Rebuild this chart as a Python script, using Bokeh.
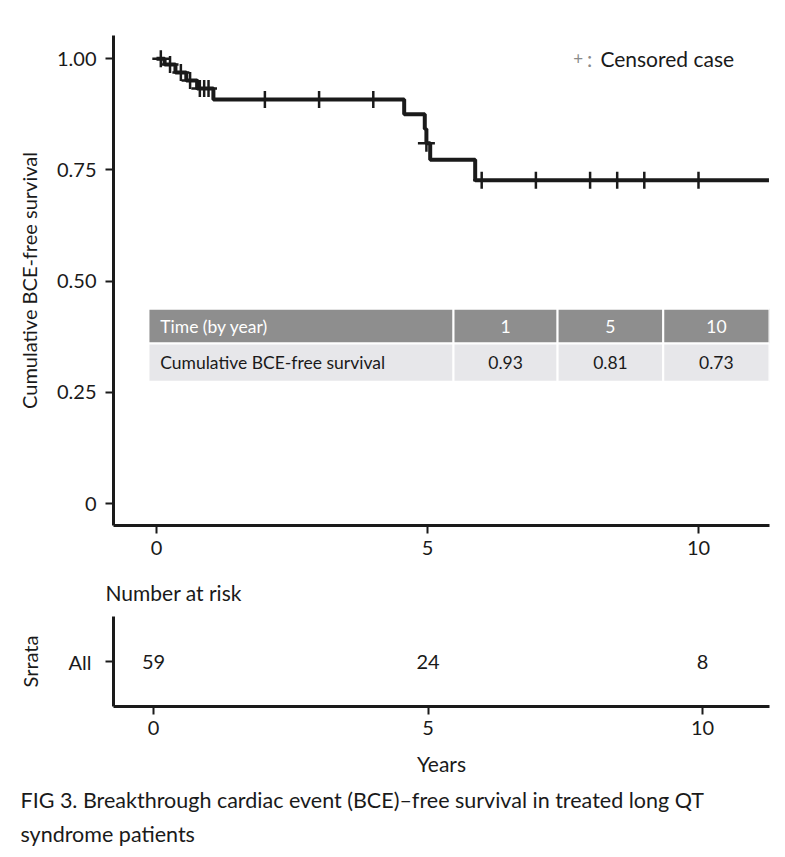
from bokeh.plotting import figure
from bokeh.models import Range1d, FixedTicker, Title
from bokeh.layouts import column
from bokeh.embed import file_html
from bokeh.resources import INLINE
from bokeh.core.properties import value

# ---------------- data ----------------
step_times = [0.0, 0.15, 0.35, 0.55, 0.75, 1.05, 4.57, 4.95, 4.98, 5.05, 5.88]
step_surv = [1.0, 0.987, 0.969, 0.951, 0.933, 0.908, 0.875, 0.842, 0.810, 0.773, 0.727]
follow_end = 11.3

censor_times = [0.08, 0.25, 0.45, 0.62, 0.80, 0.88, 0.96, 2.0, 3.0, 4.0, 4.98,
                6.0, 7.0, 8.0, 8.5, 9.0, 10.0]
censor_surv = [1.0, 0.987, 0.969, 0.951, 0.933, 0.933, 0.933, 0.908, 0.908, 0.908, 0.810,
               0.727, 0.727, 0.727, 0.727, 0.727, 0.727]

y_ticks = [0, 0.25, 0.5, 0.75, 1.0]
y_tick_labels = ["0", "0.25", "0.50", "0.75", "1.00"]
x_ticks = [0, 5, 10]

table_header = ["Time (by year)", "1", "5", "10"]
table_row = ["Cumulative BCE-free survival", "0.93", "0.81", "0.73"]

risk_times = [0, 5, 10]
at_risk = [59, 24, 8]

caption_lines = ["FIG 3.  Breakthrough cardiac event (BCE)\u2013free survival in treated long QT",
                 "syndrome patients"]

FONT = "Lato"
TICK_FS = "20px"
LABEL_FS = "20px"
BIG_FS = "21px"
TABLE_FS = "17.5px"
INK = "#1a1a1a"


def style_axis(ax):
    ax.axis_line_width = 3
    ax.axis_line_color = INK
    ax.major_tick_line_width = 2
    ax.major_tick_line_color = INK
    ax.major_tick_out = 8
    ax.major_tick_in = 0
    ax.minor_tick_line_color = None
    ax.major_label_text_font = FONT
    ax.major_label_text_font_size = TICK_FS
    ax.major_label_text_color = INK
    ax.axis_label_text_font = FONT
    ax.axis_label_text_font_style = "normal"
    ax.axis_label_text_color = INK


# ---------------- main KM figure ----------------
p = figure(width=777, height=616, x_range=Range1d(-0.793, 11.31), y_range=Range1d(-0.049, 1.052),
           output_backend="svg", toolbar_location=None,
           min_border_left=113, min_border_right=8, min_border_top=35, min_border_bottom=91)
p.outline_line_color = None
p.grid.visible = False
style_axis(p.xaxis[0])
style_axis(p.yaxis[0])

p.yaxis.ticker = FixedTicker(ticks=y_ticks)
p.yaxis.major_label_overrides = {t: l for t, l in zip(y_ticks, y_tick_labels)}
p.yaxis.major_label_standoff = 9
p.yaxis.axis_label = "Cumulative BCE-free survival"
p.yaxis.axis_label_text_font_size = LABEL_FS
p.yaxis.axis_label_standoff = 13

p.xaxis.ticker = FixedTicker(ticks=x_ticks)
p.xaxis.major_label_standoff = 7

# small spacer, then the "Number at risk" heading under the main plot's x axis
p.add_layout(Title(text=" ", standoff=17, text_font=FONT, text_font_size="1px"), "below")
p.add_layout(Title(text="Number at risk", align="left", offset=-8, standoff=0,
                   text_font=FONT, text_font_size=BIG_FS,
                   text_font_style="normal", text_color=INK), "below")

# table (drawn in data space)
col_edges = [-0.148, 5.48, 7.40, 9.35, 11.31]
row_edges = [0.438, 0.360, 0.274]
col_centers = [(col_edges[i] + col_edges[i + 1]) / 2 for i in range(len(col_edges) - 1)]
p.quad(left=col_edges[:-1], right=col_edges[1:], top=row_edges[0], bottom=row_edges[1],
       fill_color="#8e8e8e", line_color="white", line_width=2)
p.quad(left=col_edges[:-1], right=col_edges[1:], top=row_edges[1], bottom=row_edges[2],
       fill_color="#e7e7ea", line_color="white", line_width=2)
hy = (row_edges[0] + row_edges[1]) / 2
by = (row_edges[1] + row_edges[2]) / 2
p.text(x=[0.07], y=[hy], text=[table_header[0]], text_font=value(FONT), text_font_size=TABLE_FS,
       text_color="white", text_align="left", text_baseline="middle")
p.text(x=col_centers[1:], y=[hy] * 3, text=table_header[1:], text_font=value(FONT),
       text_font_size=TABLE_FS, text_color="white", text_align="center", text_baseline="middle")
p.text(x=[0.07], y=[by], text=[table_row[0]], text_font=value(FONT), text_font_size=TABLE_FS,
       text_color=INK, text_align="left", text_baseline="middle")
p.text(x=col_centers[1:], y=[by] * 3, text=table_row[1:], text_font=value(FONT),
       text_font_size=TABLE_FS, text_color=INK, text_align="center", text_baseline="middle")

# KM curve
p.step(x=step_times + [follow_end], y=step_surv + [step_surv[-1]], mode="after",
       line_width=4, line_color=INK)
p.scatter(x=censor_times, y=censor_surv, marker="cross", size=17, line_width=2.5,
          line_color=INK)

# legend note
p.text(x=[7.78], y=[1.0], text=["+"], text_font=value(FONT), text_font_size="17px",
       text_color="#8a8a8a", text_align="center", text_baseline="middle")
p.text(x=[7.99], y=[1.0], text=[":"], text_font=value(FONT), text_font_size=BIG_FS,
       text_color="#8a8a8a", text_align="center", text_baseline="middle")
p.text(x=[8.19], y=[1.0], text=["Censored case"], text_font=value(FONT), text_font_size=BIG_FS,
       text_color=INK, text_align="left", text_baseline="middle")

# ---------------- number at risk figure (with caption) ----------------
r = figure(width=777, height=239, x_range=Range1d(-0.729, 11.22), y_range=Range1d(0, 1),
           output_backend="svg", toolbar_location=None,
           min_border_left=113, min_border_right=8, min_border_top=0, min_border_bottom=149)
r.outline_line_color = None
r.grid.visible = False
style_axis(r.xaxis[0])
style_axis(r.yaxis[0])
r.xaxis.ticker = FixedTicker(ticks=x_ticks)
r.xaxis.major_label_standoff = 6
r.xaxis.axis_label = "Years"
r.xaxis.axis_label_text_font_size = BIG_FS
r.xaxis.axis_label_standoff = 13
r.yaxis.ticker = FixedTicker(ticks=[0.5])
r.yaxis.major_label_overrides = {0.5: "All"}
r.yaxis.major_label_standoff = 14
r.yaxis.axis_label = "Srrata"
r.yaxis.axis_label_text_font_size = LABEL_FS
r.yaxis.axis_label_standoff = 24
r.text(x=risk_times, y=[0.5] * len(risk_times), text=[str(n) for n in at_risk],
       text_font=value(FONT), text_font_size=TICK_FS, text_color=INK,
       text_align="center", text_baseline="middle")

for line, so in zip(caption_lines, [12, 0]):
    r.add_layout(Title(text=line, align="left", offset=-93, standoff=so,
                       text_font=FONT, text_font_size="21.5px", text_font_style="normal",
                       text_color=INK),
                 "below")

layout = column(p, r, spacing=0)
open("out.html", "w").write(file_html(layout, INLINE))
